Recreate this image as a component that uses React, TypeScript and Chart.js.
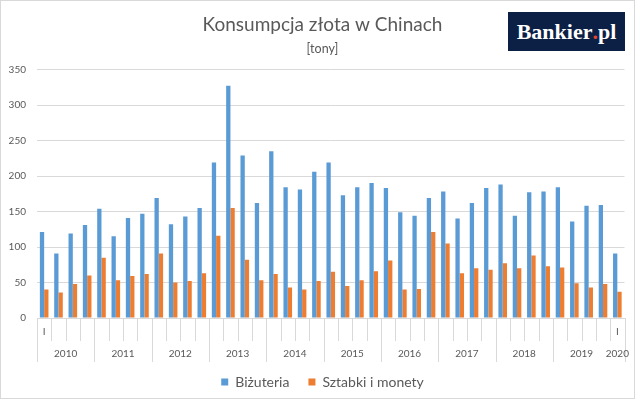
import React, { useEffect, useRef } from "react";
import { Chart, registerables } from "chart.js";

Chart.register(...registerables);

const years = ["2010", "2011", "2012", "2013", "2014", "2015", "2016", "2017", "2018", "2019", "2020"];
const quarters = ["I", "II", "III", "IV"];

// tony, kwartalnie od I 2010 do I 2020
const jewelry = [
  121, 91, 119, 131, 154, 115, 141, 147, 169, 132, 143, 155, 219, 327, 229, 162, 235, 184, 181, 206, 219,
  173, 184, 190, 183, 149, 144, 169, 178, 140, 162, 183, 188, 144, 177, 178, 184, 136, 158, 159, 91,
];
const barsAndCoins = [
  40, 36, 48, 60, 85, 53, 59, 62, 91, 50, 52, 63, 116, 155, 82, 53, 62, 43, 40, 52, 65, 45, 53, 66, 81, 40,
  41, 121, 105, 63, 70, 68, 77, 70, 88, 73, 71, 49, 43, 48, 37,
];

const yTicks = [0, 50, 100, 150, 200, 250, 300, 350];

const categories = jewelry.map((_, i) => `${quarters[i % 4]} ${years[Math.floor(i / 4)]}`);

const BLUE = "#5B9BD5";
const ORANGE = "#ED7D31";
const GRID = "#d9d9d9";
const TEXT = "#595959";
const FONT = "Lato, sans-serif";

// multi-level category axis (quarters + years), drawn from the x scale
const yearAxisPlugin = {
  id: "yearAxis",
  afterDraw(chart: any) {
    const { ctx, chartArea, scales } = chart;
    const x = scales.x;
    const n = categories.length;
    const top = chartArea.bottom;
    ctx.save();
    ctx.strokeStyle = GRID;
    ctx.lineWidth = 1;
    for (let i = 0; i <= n; i++) {
      const px = Math.round(x.getPixelForValue(i - 0.5)) + 0.5;
      const yearEdge = i === n || (i % 4 === 0 && i < n - 1);
      ctx.beginPath();
      ctx.moveTo(px, top);
      ctx.lineTo(px, top + (yearEdge ? 44 : 23));
      ctx.stroke();
    }
    ctx.fillStyle = TEXT;
    ctx.font = `10px ${FONT}`;
    ctx.textAlign = "center";
    ctx.textBaseline = "middle";
    years.forEach((y, k) => {
      const first = k * 4;
      const last = Math.min(first + 3, n - 1);
      ctx.fillText(y, x.getPixelForValue((first + last) / 2), top + 35.5);
    });
    ctx.restore();
  },
};

const App: React.FC = () => {
  const canvasRef = useRef<HTMLCanvasElement | null>(null);

  useEffect(() => {
    if (!canvasRef.current) return;

    const chart = new Chart(canvasRef.current, {
      type: "bar",
      data: {
        labels: categories,
        datasets: [
          {
            label: "Biżuteria",
            data: jewelry,
            backgroundColor: BLUE,
            barPercentage: 1,
            categoryPercentage: 0.6,
          },
          {
            label: "Sztabki i monety",
            data: barsAndCoins,
            backgroundColor: ORANGE,
            barPercentage: 1,
            categoryPercentage: 0.6,
          },
        ],
      },
      options: {
        animation: false,
        responsive: true,
        maintainAspectRatio: false,
        // negative right padding + empty right axis: centres title/legend like the original
        layout: { padding: { left: 0, right: -5, top: 0, bottom: 4 } },
        plugins: {
          title: {
            display: true,
            text: "Konsumpcja złota w Chinach",
            color: TEXT,
            font: { family: FONT, size: 19, weight: "normal" },
            padding: { top: 13, bottom: 0 },
          },
          subtitle: {
            display: true,
            text: "[tony]",
            color: TEXT,
            font: { family: FONT, size: 12.5 },
            padding: { top: 6, bottom: 12.7 },
          },
          legend: {
            position: "bottom",
            labels: {
              color: TEXT,
              font: { family: FONT, size: 14 },
              boxWidth: 7,
              boxHeight: 7,
              padding: 19,
            },
          },
          tooltip: { enabled: false },
        },
        scales: {
          x: {
            grid: { display: false, drawTicks: false },
            border: { display: true, color: GRID },
            ticks: {
              autoSkip: false,
              maxRotation: 0,
              padding: 7.5,
              color: TEXT,
              font: { family: FONT, size: 10 },
              callback: (_v: any, i: number) =>
                i === 0 || i === categories.length - 1 ? quarters[i % 4] : "",
            },
            afterFit: (scale: any) => {
              scale.height = 38;
            },
          },
          y: {
            min: 0,
            max: 350,
            afterBuildTicks: (scale: any) => {
              scale.ticks = yTicks.map((v) => ({ value: v }));
            },
            grid: { color: GRID, drawTicks: false },
            border: { display: false },
            ticks: {
              padding: 11,
              color: TEXT,
              font: { family: FONT, size: 10 },
            },
            afterFit: (scale: any) => {
              scale.width = 37;
            },
          },
          yRight: {
            position: "right",
            min: 0,
            max: 350,
            grid: { display: false, drawTicks: false },
            border: { display: false },
            ticks: { display: false },
            afterFit: (scale: any) => {
              scale.width = 20.5;
            },
          },
        },
      },
      plugins: [yearAxisPlugin],
    });

    return () => chart.destroy();
  }, []);

  return (
    <div style={{ position: "absolute", left: 0, top: 0, width: 640, height: 403, background: "#fff" }}>
      <div
        style={{
          position: "absolute",
          left: 0,
          top: 0,
          width: 635,
          height: 399,
          border: `1px solid ${GRID}`,
          boxSizing: "border-box",
        }}
      />
      <div style={{ position: "absolute", left: 0, top: 0, width: 640, height: 403 }}>
        <canvas ref={canvasRef}></canvas>
      </div>
      <div
        style={{
          position: "absolute",
          left: 508,
          top: 12,
          width: 117,
          height: 39,
          background: "#0c1f45",
          color: "#fff",
          display: "flex",
          alignItems: "center",
          justifyContent: "center",
          fontFamily: "'Liberation Serif', serif",
          fontWeight: "bold",
          fontSize: 22,
        }}
      >
        Bankier<span style={{ color: "#e8432e" }}>.</span>pl
      </div>
    </div>
  );
};

export default App;
